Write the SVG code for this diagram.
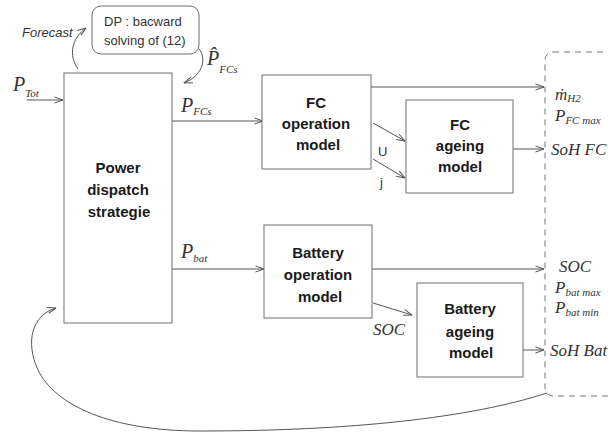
<svg xmlns="http://www.w3.org/2000/svg" width="608" height="435" viewBox="0 0 608 435">
<style>
.box{fill:#fff;stroke:#6e6e6e;stroke-width:1}
.lbl{font-family:"Liberation Sans",Arial,sans-serif;font-weight:bold;font-size:15px;fill:#1a1a1a;text-anchor:middle}
.sans{font-family:"Liberation Sans",Arial,sans-serif;font-size:13px;fill:#333}
.math{font-family:"Liberation Serif","Times New Roman",serif;font-style:italic;fill:#333}
.sub{font-size:11px}
.con{fill:none;stroke:#555;stroke-width:1;marker-end:url(#arr)}
.dash{fill:none;stroke:#777;stroke-width:1;stroke-dasharray:6,5}
</style>
<defs>
<marker id="arr" viewBox="0 0 10 10" refX="9.5" refY="5" markerWidth="10" markerHeight="10" markerUnits="userSpaceOnUse" orient="auto">
<path d="M1,2 L9.5,5 L1,8" fill="none" stroke="#555" stroke-width="1"/>
</marker>
</defs>
<rect width="608" height="435" fill="#fff"/>

<g id="outputs">
<rect class="dash" x="545" y="52" width="120" height="344" rx="8"/>
</g>

<g id="connectors">
<path class="con" d="M27,100 L63,100"/>
<path class="con" d="M78,69 C68,55 72,38 86,28"/>
<path class="con" d="M197,47 C207,55 205,75 184,83"/>
<path class="con" d="M172,121 L263,121"/>
<path class="con" d="M371,87 L544,87"/>
<path class="con" d="M373,123 L405,141"/>
<path class="con" d="M373,159 L405,178"/>
<path class="con" d="M513,149 L544,149"/>
<path class="con" d="M172,269 L264,269"/>
<path class="con" d="M372,269 L544,269"/>
<path class="con" d="M373,303 L412,315"/>
<path class="con" d="M523,350 L544,350"/>
<path class="con" d="M547,393 C470,418 350,431 200,431 C110,431 55,405 38,370 C25,342 32,315 56,308"/>
</g>

<g id="dp">
<rect class="box" x="92" y="6" width="107" height="48" rx="9"/>
<text class="sans" x="104" y="25.5">DP : bacward</text>
<text class="sans" x="104" y="44.5">solving of (12)</text>
</g>

<g id="power">
<rect class="box" x="64" y="73" width="108" height="250"/>
<text class="lbl" x="118" y="173">Power</text>
<text class="lbl" x="118" y="195">dispatch</text>
<text class="lbl" x="119" y="217">strategie</text>
</g>

<g id="fcop">
<rect class="box" x="262" y="75" width="109" height="94"/>
<text class="lbl" x="316" y="108">FC</text>
<text class="lbl" x="316" y="129">operation</text>
<text class="lbl" x="318" y="150">model</text>
</g>

<g id="fcage">
<rect class="box" x="406" y="100" width="107" height="93"/>
<text class="lbl" x="460" y="130">FC</text>
<text class="lbl" x="460" y="151">ageing</text>
<text class="lbl" x="460" y="172">model</text>
</g>

<g id="batop">
<rect class="box" x="264" y="225" width="108" height="93"/>
<text class="lbl" x="318" y="258">Battery</text>
<text class="lbl" x="318" y="280">operation</text>
<text class="lbl" x="320" y="302">model</text>
</g>

<g id="batage">
<rect class="box" x="417" y="283" width="106" height="94"/>
<text class="lbl" x="470" y="314">Battery</text>
<text class="lbl" x="470" y="337">ageing</text>
<text class="lbl" x="471" y="358">model</text>
</g>

<g id="labels">
<text class="sans" x="22" y="37" font-style="italic" font-size="12.5">Forecast</text>
<text class="math" x="13" y="91" font-size="20">P<tspan class="sub" dy="6">Tot</tspan></text>
<text class="math" x="207" y="65" font-size="20">P̂<tspan class="sub" dy="8">FCs</tspan></text>
<text class="math" x="181" y="112" font-size="20">P<tspan class="sub" dy="3">FCs</tspan></text>
<text class="math" x="181" y="258" font-size="20">P<tspan class="sub" dy="4">bat</tspan></text>
<text class="sans" x="378" y="156">U</text>
<text class="sans" x="380" y="187">j</text>
<text class="math" x="373" y="335" font-size="17">SOC</text>
<text class="math" x="555" y="100" font-size="17">ṁ<tspan class="sub" dy="2">H2</tspan></text>
<text class="math" x="555" y="121" font-size="17">P<tspan class="sub" dy="3">FC max</tspan></text>
<text class="math" x="551" y="155" font-size="17">SoH FC</text>
<text class="math" x="559" y="272" font-size="17">SOC</text>
<text class="math" x="555" y="293" font-size="17">P<tspan class="sub" dy="3">bat max</tspan></text>
<text class="math" x="555" y="313" font-size="17">P<tspan class="sub" dy="3">bat min</tspan></text>
<text class="math" x="550" y="356" font-size="17">SoH Bat</text>
</g>
</svg>
